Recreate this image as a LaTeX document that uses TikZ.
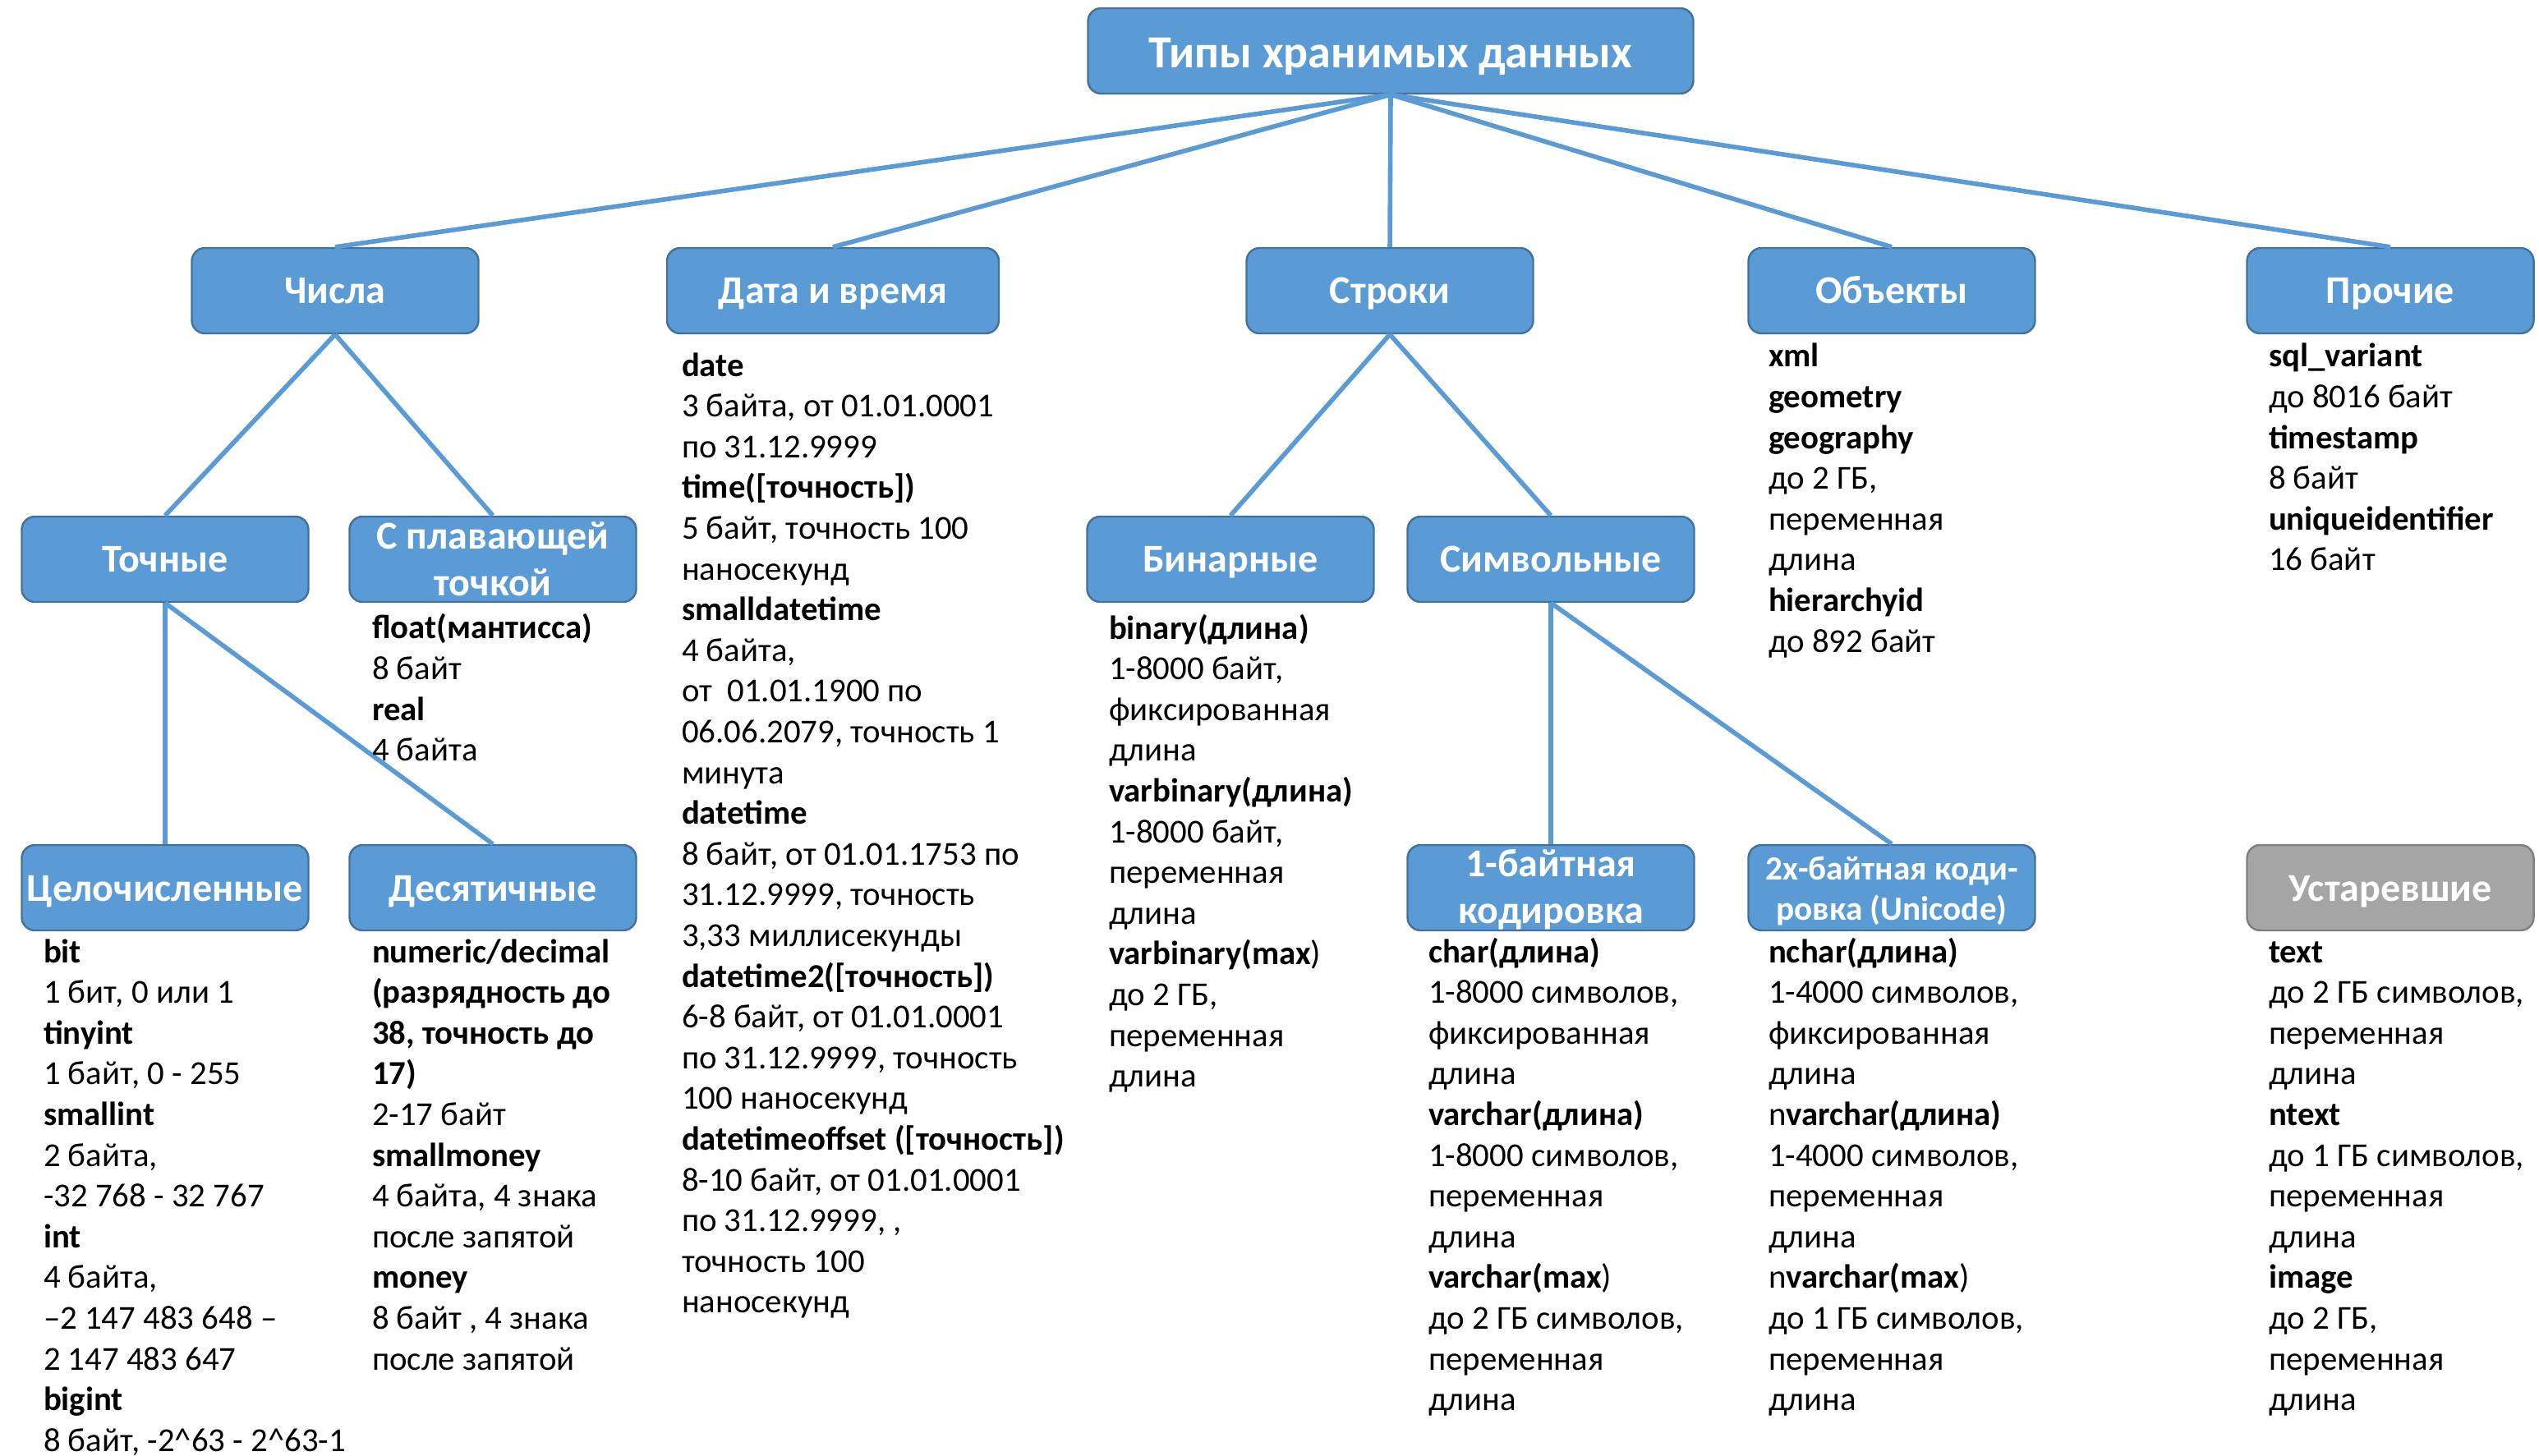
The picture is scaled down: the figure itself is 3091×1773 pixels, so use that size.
\documentclass[tikz,border=0pt]{standalone}
\usepackage{fontspec}
\setmainfont{Carlito}
\definecolor{boxfill}{HTML}{5B9BD5}
\definecolor{boxline}{HTML}{41719C}
\definecolor{grayfill}{HTML}{A5A5A5}
\definecolor{grayline}{HTML}{7F7F7F}
\definecolor{linec}{HTML}{5B9BD5}
\newcommand\bodyfont{\fontsize{10.2pt}{12.4pt}\selectfont}
\newcommand\labfont{\fontsize{12pt}{14.3pt}\selectfont\bfseries}
\newcommand\rootfont{\fontsize{14pt}{17pt}\selectfont\bfseries}
\newcommand\smlabfont{\fontsize{10.3pt}{12.3pt}\selectfont\bfseries}
\newcommand\fstr{\rule{0pt}{9pt}}
\begin{document}
\begin{tikzpicture}[x=0.25pt,y=-0.25pt,
  box/.style={draw=boxline, fill=boxfill, rounded corners=4pt, line width=0.6pt,
    minimum width=87.25pt, minimum height=26pt, inner sep=0pt, text=white, font=\labfont,
    text height=9.3pt, text depth=1.3pt},
  emptybox/.style={draw=boxline, fill=boxfill, rounded corners=4pt, line width=0.6pt,
    minimum width=87.25pt, minimum height=26pt, inner sep=0pt},
  graybox/.style={box, draw=grayline, fill=grayfill},
  boxtext/.style={inner sep=0pt, text=white, font=\labfont, align=center},
  conn/.style={draw=linec, line width=1.4pt},
  col/.style={anchor=north west, inner sep=0pt, outer sep=0pt, align=left, font=\bodyfont, text=black}]
\fill[white] (0,0) rectangle (3091,1773);
\useasboundingbox (0,0) rectangle (3091,1773);

% boxes
\node[box, minimum width=184.25pt, font=\rootfont, text height=12pt, text depth=1.5pt] (root) at (1693,62) {Типы хранимых данных};
\node[box] (chisla) at (408,354) {Числа};
\node[box, minimum width=101pt] (data) at (1014,354) {Дата и время};
\node[box] (stroki) at (1692,354) {Строки};
\node[box] (obj) at (2303,354) {Объекты};
\node[box] (proch) at (2910,354) {Прочие};
\node[box] (tochn) at (201,681) {Точные};
\node[emptybox] (plav) at (600,681) {};
\node[boxtext] (plavt) at (plav.center) {С плавающей\\точкой};
\node[box] (bin) at (1498,681) {Бинарные};
\node[box] (simv) at (1888,681) {Символьные};
\node[box] (cel) at (201,1081) {Целочисленные};
\node[box] (des) at (600,1081) {Десятичные};
\node[emptybox] (odn) at (1888,1081) {};
\node[boxtext, yshift=-0.6pt] (odnt) at (odn.center) {1-байтная\\кодировка};
\node[emptybox] (dvu) at (2303,1081) {};
\node[boxtext, font=\smlabfont, yshift=-1pt] (dvut) at (dvu.center) {2х-байтная коди-\\ровка (Unicode)};
\node[graybox] (ust) at (2910,1081) {Устаревшие};

% connectors
\draw[conn] (root.south) -- (chisla.north);
\draw[conn] (root.south) -- (data.north);
\draw[conn] (root.south) -- (stroki.north);
\draw[conn] (root.south) -- (obj.north);
\draw[conn] (root.south) -- (proch.north);
\draw[conn] (chisla.south) -- (tochn.north);
\draw[conn] (chisla.south) -- (plav.north);
\draw[conn] (stroki.south) -- (bin.north);
\draw[conn] (stroki.south) -- (simv.north);
\draw[conn] (tochn.south) -- (cel.north);
\draw[conn] (tochn.south) -- (des.north);
\draw[conn] (simv.south) -- (odn.north);
\draw[conn] (simv.south) -- (dvu.north);

% text columns
\node[col] (tcel) at (53,1136) {\fstr\textbf{bit}\\
1 бит, 0 или 1\\
\textbf{tinyint}\\
1 байт, 0 - 255\\
\textbf{smallint}\\
2 байта,\\
-32 768 - 32 767\\
\textbf{int}\\
4 байта,\\
–2 147 483 648 –\\
2 147 483 647\\
\textbf{bigint}\\
8 байт, -2\textasciicircum 63 - 2\textasciicircum 63-1};

\node[col] (tdes) at (453,1136) {\fstr\textbf{numeric/decimal}\\
\textbf{(разрядность до}\\
\textbf{38, точность до}\\
\textbf{17)}\\
2-17 байт\\
\textbf{smallmoney}\\
4 байта, 4 знака\\
после запятой\\
\textbf{money}\\
8 байт , 4 знака\\
после запятой};

\node[col] (tplav) at (453,742) {\fstr\textbf{float(мантисса)}\\
8 байт\\
\textbf{real}\\
4 байта};

\node[col] (tdata) at (830,422) {\fstr\textbf{date}\\
3 байта, от 01.01.0001\\
по 31.12.9999\\
\textbf{time([точность])}\\
5 байт, точность 100\\
наносекунд\\
\textbf{smalldatetime}\\
4 байта,\\
от\ \ 01.01.1900 по\\
06.06.2079, точность 1\\
минута\\
\textbf{datetime}\\
8 байт, от 01.01.1753 по\\
31.12.9999, точность\\
3,33 миллисекунды\\
\textbf{datetime2([точность])}\\
6-8 байт, от 01.01.0001\\
по 31.12.9999, точность\\
100 наносекунд\\
\textbf{datetimeoffset ([точность])}\\
8-10 байт, от 01.01.0001\\
по 31.12.9999, ,\\
точность 100\\
наносекунд};

\node[col] (tbin) at (1350,742) {\fstr\textbf{binary(длина)}\\
1-8000 байт,\\
фиксированная\\
длина\\
\textbf{varbinary(длина)}\\
1-8000 байт,\\
переменная\\
длина\\
\textbf{varbinary(max})\\
до 2 ГБ,\\
переменная\\
длина};

\node[col] (todn) at (1739,1136) {\fstr\textbf{char(длина)}\\
1-8000 символов,\\
фиксированная\\
длина\\
\textbf{varchar(длина)}\\
1-8000 символов,\\
переменная\\
длина\\
\textbf{varchar(max})\\
до 2 ГБ символов,\\
переменная\\
длина};

\node[col] (tdvu) at (2153,1136) {\fstr\textbf{nchar(длина)}\\
1-4000 символов,\\
фиксированная\\
длина\\
n\textbf{varchar(длина)}\\
1-4000 символов,\\
переменная\\
длина\\
n\textbf{varchar(max})\\
до 1 ГБ символов,\\
переменная\\
длина};

\node[col] (tobj) at (2153,411) {\fstr\textbf{xml}\\
\textbf{geometry}\\
\textbf{geography}\\
до 2 ГБ,\\
переменная\\
длина\\
\textbf{hierarchyid}\\
до 892 байт};

\node[col] (tproch) at (2762,411) {\fstr\textbf{sql\_variant}\\
до 8016 байт\\
\textbf{timestamp}\\
8 байт\\
\textbf{uniqueidentifier}\\
16 байт};

\node[col] (tust) at (2762,1136) {\fstr\textbf{text}\\
до 2 ГБ символов,\\
переменная\\
длина\\
\textbf{ntext}\\
до 1 ГБ символов,\\
переменная\\
длина\\
\textbf{image}\\
до 2 ГБ,\\
переменная\\
длина};
\end{tikzpicture}
\end{document}
